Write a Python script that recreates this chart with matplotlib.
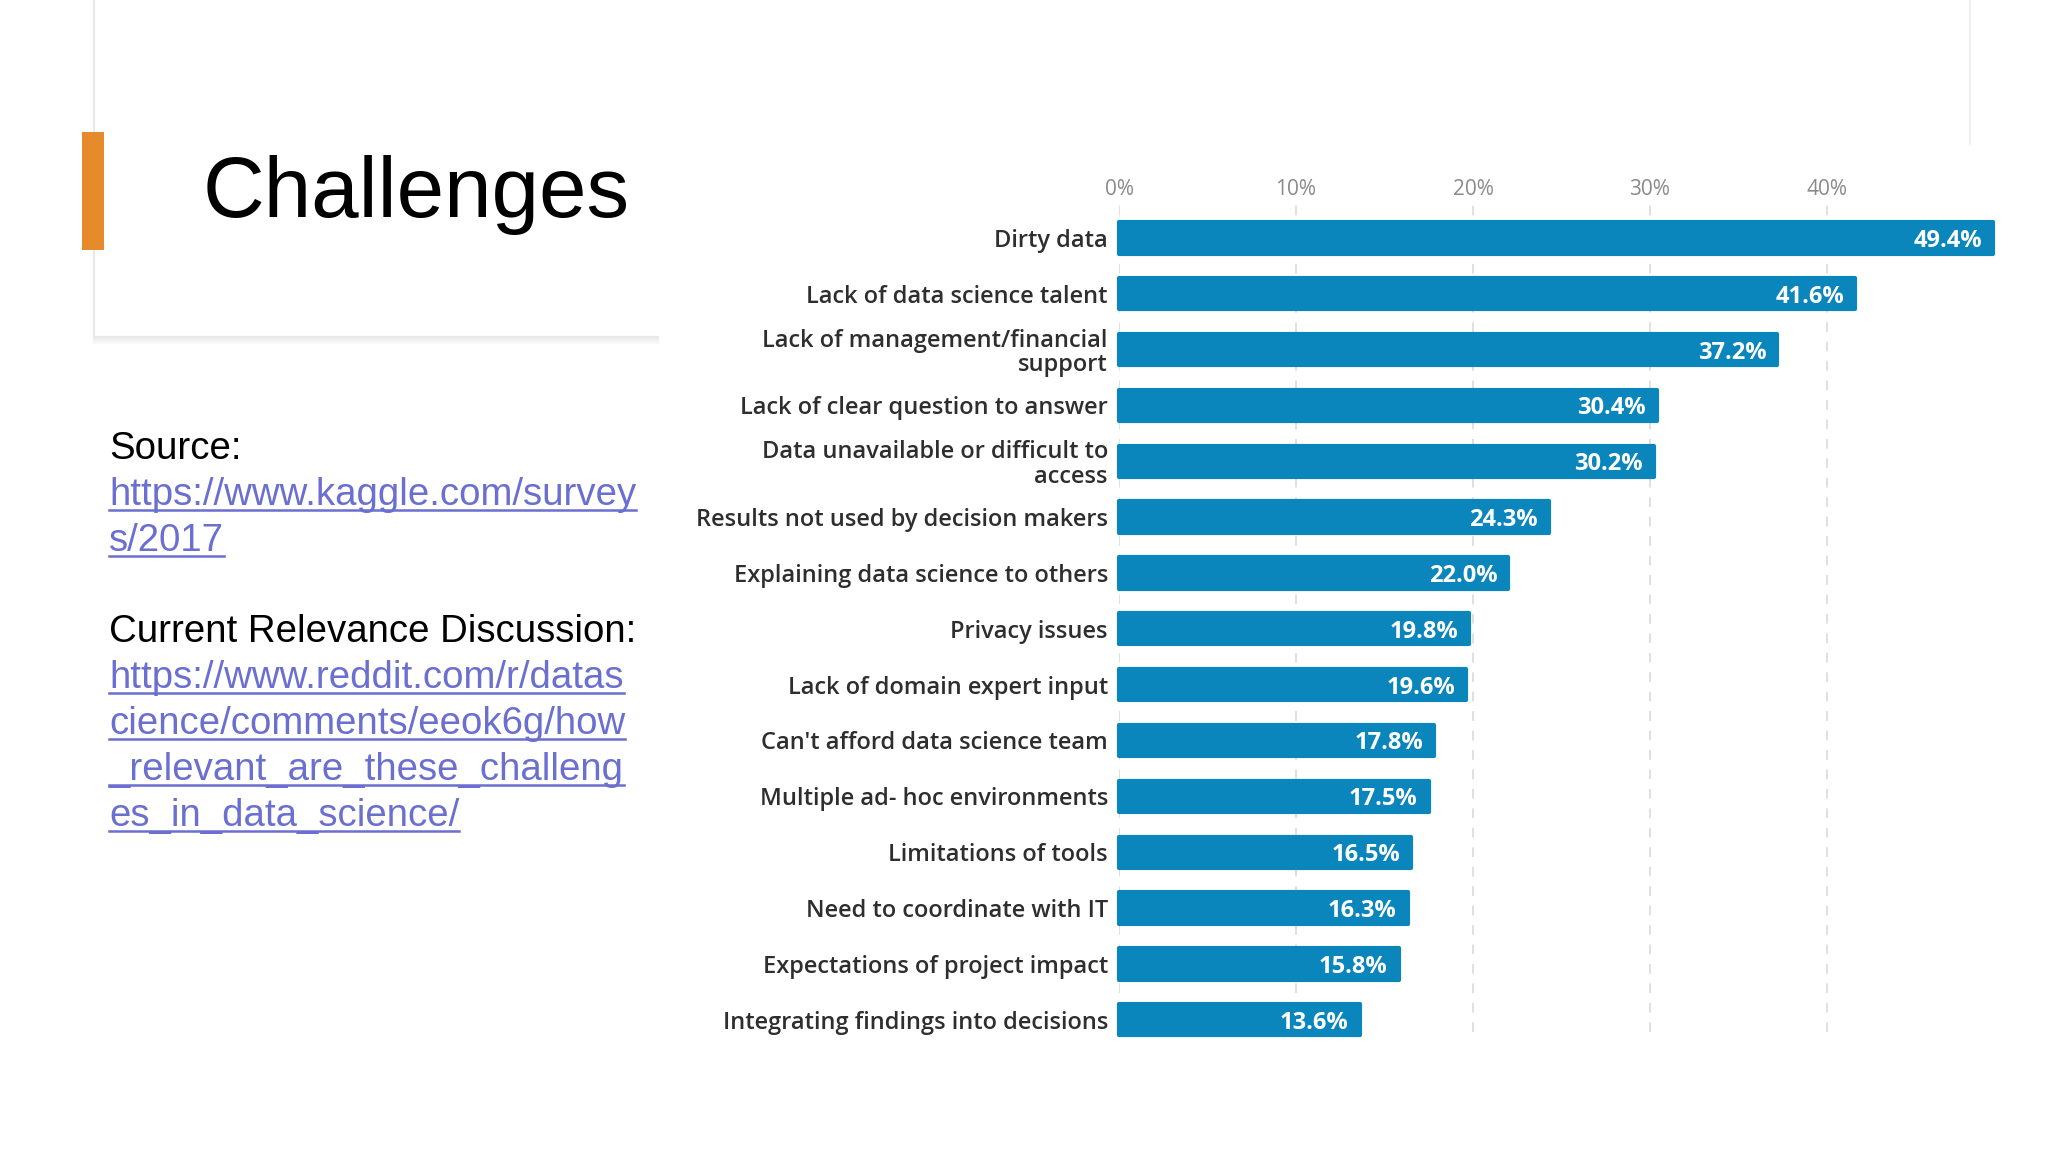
import matplotlib
matplotlib.use("Agg")
import matplotlib.pyplot as plt
from matplotlib.lines import Line2D
from matplotlib.patches import Rectangle

W, H = 2048, 1152

categories = [
    "Dirty data",
    "Lack of data science talent",
    "Lack of management/financial\nsupport",
    "Lack of clear question to answer",
    "Data unavailable or difficult to\naccess",
    "Results not used by decision makers",
    "Explaining data science to others",
    "Privacy issues",
    "Lack of domain expert input",
    "Can't afford data science team",
    "Multiple ad- hoc environments",
    "Limitations of tools",
    "Need to coordinate with IT",
    "Expectations of project impact",
    "Integrating findings into decisions",
]
values = [49.4, 41.6, 37.2, 30.4, 30.2, 24.3, 22.0, 19.8, 19.6, 17.8, 17.5, 16.5, 16.3, 15.8, 13.6]
ticks = [0, 10, 20, 30, 40]
tick_labels = ["0%", "10%", "20%", "30%", "40%"]

source_lines = ["https://www.kaggle.com/survey", "s/2017"]
reddit_lines = ["https://www.reddit.com/r/datas", "cience/comments/eeok6g/how",
                "_relevant_are_these_challeng", "es_in_data_science/"]

bar_color = "#0b86bd"
link_color = "#6a6fd0"
chart_font = "Open Sans"


def fx(x):
    return x / W


def fy(y):
    return 1 - y / H


fig = plt.figure(figsize=(W / 100, H / 100), dpi=100)
fig.patch.set_facecolor("white")

# title card edges
fig.add_artist(Line2D([fx(94), fx(94)], [fy(0), fy(337)], color="#e4e4e4", lw=1.2, zorder=1))
fig.add_artist(Line2D([fx(1970), fx(1970)], [fy(0), fy(144)], color="#ececec", lw=1.2, zorder=1))
for i, c in enumerate(["#e8e8e8", "#eeeeee", "#f3f3f3", "#f8f8f8"]):
    fig.add_artist(Line2D([fx(94), fx(658)], [fy(337 + i * 2), fy(337 + i * 2)],
                          color=c, lw=1.6, zorder=1))

# orange accent
fig.add_artist(Rectangle((fx(82), fy(250)), fx(104) - fx(82), fy(132) - fy(250),
                         transform=fig.transFigure, color="#e58b2b", lw=0, zorder=5))

fig.text(fx(203), fy(217), "Challenges", fontsize=61.5, family="Liberation Sans",
         color="black", va="baseline", ha="left")

fs = 27.6
fig.text(fx(109), fy(459), "Source:", fontsize=fs, family="Liberation Sans", va="baseline")
fig.text(fx(109), fy(642), "Current Relevance Discussion:", fontsize=fs,
         family="Liberation Sans", va="baseline")

links = []
base_y = [505, 551]
for txt, y in zip(source_lines, base_y):
    links.append((fig.text(fx(109), fy(y), txt, fontsize=fs, family="Liberation Sans",
                           color=link_color, va="baseline"), y))
base_y = [688, 734, 780, 826]
for txt, y in zip(reddit_lines, base_y):
    links.append((fig.text(fx(109), fy(y), txt, fontsize=fs, family="Liberation Sans",
                           color=link_color, va="baseline"), y))

# bar chart
ax = fig.add_axes([fx(1119), fy(1032), fx(2004) - fx(1119), fy(203) - fy(1032)])
y_pos = list(range(len(categories)))
bars = ax.barh(y_pos, values, height=0.56, color=bar_color, edgecolor=bar_color,
               linewidth=3, joinstyle="round", zorder=3)
for b in bars:
    b.set_clip_on(False)
ax.set_xlim(0, 50)
ax.set_ylim(14.22, -0.625)
ax.set_yticks(y_pos)
ax.set_yticklabels(categories, fontsize=17, fontweight="semibold", family=chart_font,
                   color="#2e2e2e", linespacing=1.05)
ax.set_xticks(ticks)
ax.set_xticklabels(tick_labels, fontsize=15, family=chart_font, color="#8a8a8a")
ax.xaxis.tick_top()
ax.tick_params(axis="both", length=0)
ax.tick_params(axis="x", pad=2)
ax.tick_params(axis="y", pad=8)
for s in ax.spines.values():
    s.set_visible(False)
ax.grid(axis="x", color="#e0e0e0", linestyle=(0, (5, 5)), linewidth=1.4, zorder=0)
ax.set_axisbelow(True)

for yp, v in zip(y_pos, values):
    ax.annotate(f"{v:.1f}%", (v, yp), xytext=(-11, -3), textcoords="offset pixels",
                ha="right", va="center", color="white", fontsize=17,
                fontweight="bold", family=chart_font, zorder=4)

# underline the links
fig.canvas.draw()
r = fig.canvas.get_renderer()
for t, y in links:
    bb = t.get_window_extent(renderer=r)
    uy = fy(y + 5)
    fig.add_artist(Line2D([bb.x0 / W, bb.x1 / W], [uy, uy], color=link_color, lw=1.8))

fig.savefig("out.png", dpi=100)
